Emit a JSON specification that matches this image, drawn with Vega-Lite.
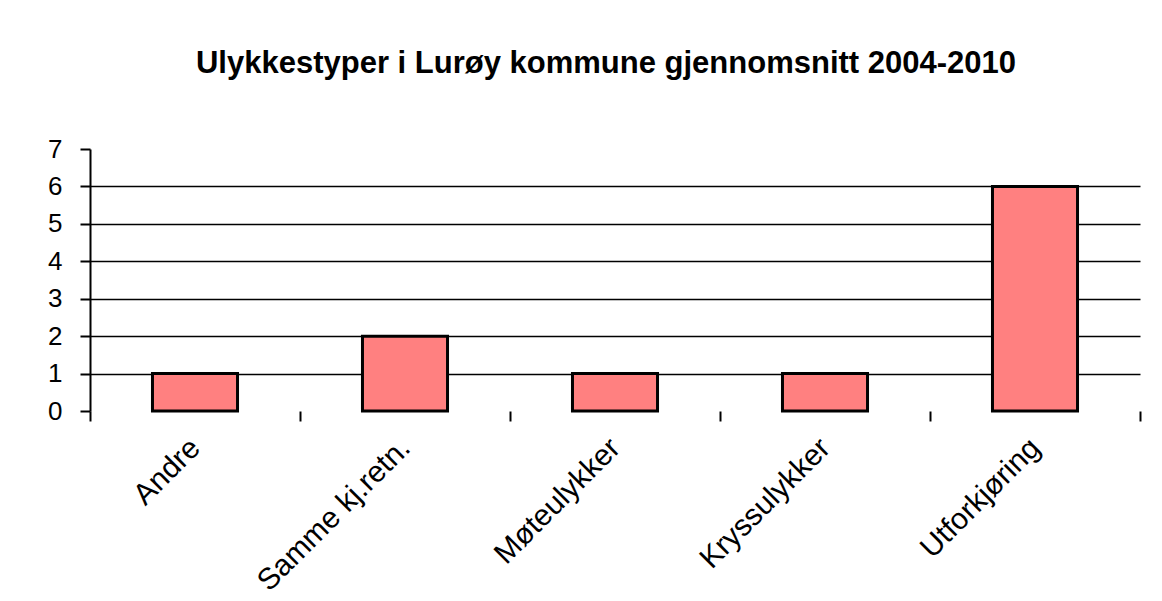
{
  "$schema": "https://vega.github.io/schema/vega-lite/v6.json",
  "autosize": {"type": "none"},
  "width": 1050,
  "height": 262,
  "padding": {"left": 90, "top": 149, "right": 22, "bottom": 190},
  "background": "white",
  "title": {
    "text": "Ulykkestyper i Lurøy kommune gjennomsnitt 2004-2010",
    "font": "Liberation Sans",
    "fontSize": 31,
    "fontWeight": "bold",
    "color": "black",
    "anchor": "middle",
    "dx": -9,
    "offset": 56
  },
  "data": {
    "values": [
      {"type": "Andre", "antall": 1},
      {"type": "Samme kj.retn.", "antall": 2},
      {"type": "Møteulykker", "antall": 1},
      {"type": "Kryssulykker", "antall": 1},
      {"type": "Utforkjøring", "antall": 6}
    ]
  },
  "mark": {"type": "bar", "fill": "#FF8080", "stroke": "black", "strokeWidth": 3, "width": {"band": 0.405}},
  "encoding": {
    "x": {
      "field": "type",
      "type": "nominal",
      "sort": null,
      "scale": {"paddingInner": 0, "paddingOuter": 0},
      "axis": {
        "title": null,
        "domain": false,
        "tickBand": "extent",
        "tickExtra": true,
        "ticks": true,
        "tickSize": 10,
        "tickColor": "black",
        "tickWidth": 2,
        "tickOpacity": 1,
        "labelAngle": -45,
        "labelAlign": "right",
        "labelBaseline": "middle",
        "labelPadding": 22,
        "labelLimit": 0,
        "labelFont": "Liberation Sans",
        "labelFontSize": 30,
        "labelColor": "black",
        "grid": false
      }
    },
    "y": {
      "field": "antall",
      "type": "quantitative",
      "scale": {"domain": [0, 7], "nice": false},
      "axis": {
        "title": null,
        "values": [0, 1, 2, 3, 4, 5, 6, 7],
        "domain": true,
        "domainColor": "black",
        "domainWidth": 2,
        "ticks": true,
        "tickSize": 10,
        "tickColor": "black",
        "tickWidth": 2,
        "labelFont": "Liberation Sans",
        "labelFontSize": 26,
        "labelColor": "black",
        "labelPadding": 18,
        "grid": true,
        "gridColor": "black",
        "gridWidth": 1.5,
        "gridOpacity": {"condition": {"test": "datum.value == 0 || datum.value == 7", "value": 0}, "value": 1}
      }
    }
  },
  "config": {
    "view": {"stroke": null}
  }
}
